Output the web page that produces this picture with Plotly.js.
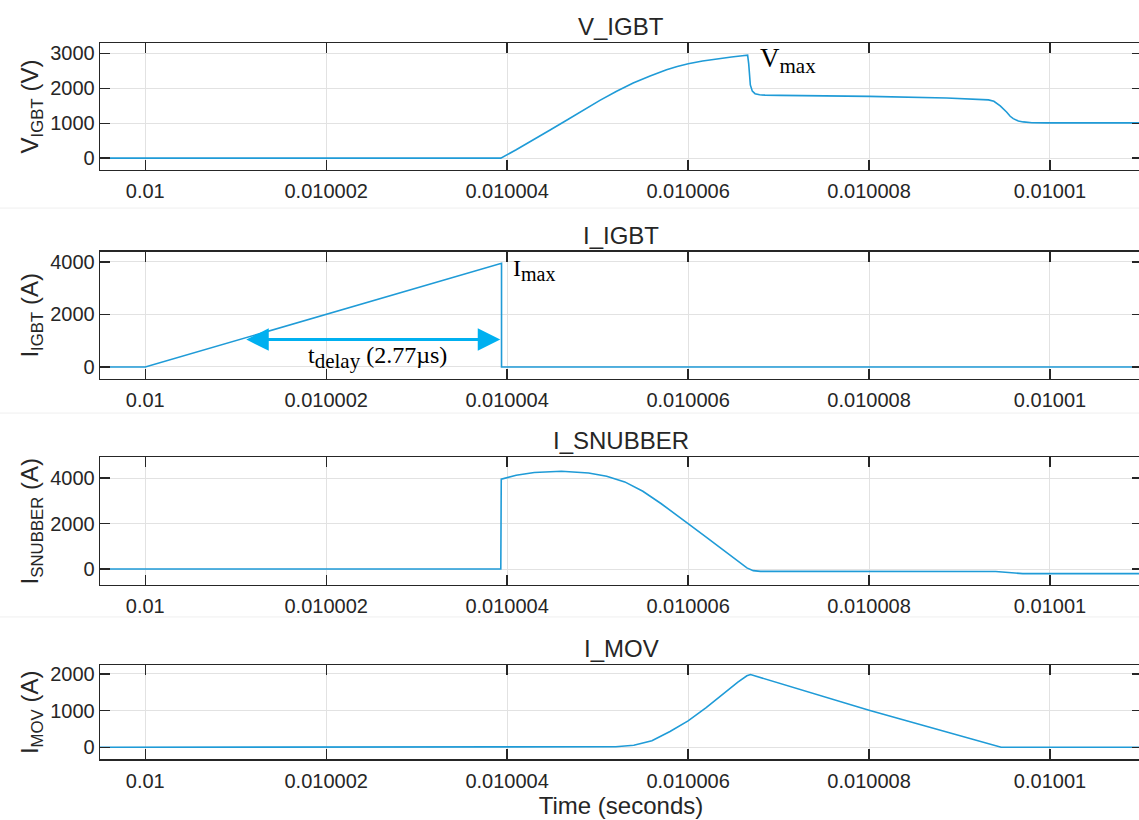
<!DOCTYPE html>
<html>
<head>
<meta charset="utf-8">
<script src="https://cdn.plot.ly/plotly-3.0.1.min.js"></script>
<style>
  html, body { margin: 0; padding: 0; overflow: hidden; background: #ffffff; }
  #chart { width: 1142px; height: 820px; }
</style>
</head>
<body>
<div id="chart"></div>
<script>
// ---------------- data (time in seconds) ----------------
const tV = [0.0099995, 0.01000393, 0.0100041, 0.010004287, 0.01000447, 0.010004657,
            0.01000484, 0.010005025, 0.01000521, 0.010005393, 0.01000558, 0.010005762,
            0.01000588, 0.010006001, 0.01000616, 0.010006315, 0.01000648, 0.0100066,
            0.010006658, 0.01000667, 0.010006688, 0.01000671, 0.01000674, 0.01000679,
            0.01000685, 0.010007015, 0.010008002, 0.010008858, 0.010009226, 0.01000932,
            0.01000938, 0.01000945, 0.01000952, 0.01000956, 0.010009594, 0.01000965,
            0.010009705, 0.0100098, 0.010009964, 0.01001102];
const vIGBT = [0, 0, 240, 514, 800, 1086,
               1375, 1657, 1915, 2151, 2355, 2534,
               2625, 2706, 2785, 2849, 2900, 2935,
               2950, 2700, 2100, 1920, 1848, 1815,
               1805, 1800, 1771, 1723, 1695, 1670,
               1630, 1500, 1324, 1200, 1133, 1065,
               1038, 1015, 1010, 1010];

const tI = [0.0099995, 0.01, 0.010003938, 0.010003938, 0.01001102];
const iIGBT = [0, 0, 3950, 0, 0];

const tS = [0.0099995, 0.01000393, 0.010003935, 0.0100041, 0.0100043, 0.0100046,
            0.0100049, 0.0100051, 0.0100053, 0.0100055, 0.0100057, 0.01000585,
            0.010006, 0.0100062, 0.0100064, 0.01000655, 0.01000665, 0.01000672,
            0.0100068, 0.0100094, 0.0100095, 0.0100096, 0.0100097, 0.01001102];
const iSNUB = [0, 0, 3950, 4120, 4240, 4300,
               4220, 4080, 3830, 3420, 2880, 2420,
               2000, 1400, 800, 330, 50, -70,
               -100, -110, -150, -190, -200, -200];

const tM = [0.0099995, 0.01000393, 0.010005, 0.0100052, 0.0100054, 0.0100056,
            0.0100058, 0.010006, 0.0100062, 0.0100064, 0.01000655, 0.01000665,
            0.01000669, 0.010008, 0.01000946, 0.01000954, 0.01001102];
const iMOV = [0, 0, 5, 15, 55, 180,
              430, 720, 1080, 1480, 1780, 1950,
              1985, 1010, 0, 0, 0];

const xTickVals = [0.01, 0.010002, 0.010004, 0.010006, 0.010008, 0.01001];
const xTickText = ["0.01", "0.010002", "0.010004", "0.010006", "0.010008", "0.01001"];
const panelTitles = ["V_IGBT", "I_IGBT", "I_SNUBBER", "I_MOV"];
const yTitles = ["V<sub>IGBT</sub> (V)", "I<sub>IGBT</sub> (A)", "I<sub>SNUBBER</sub> (A)", "I<sub>MOV</sub> (A)"];
const yTickVals = [[0, 1000, 2000, 3000], [0, 2000, 4000], [0, 2000, 4000], [0, 1000, 2000]];

// annotation anchors
const tDelayStart = 0.0100011, tDelayEnd = 0.010003924, tDelayLevel = 1045;

// ---------------- styling ----------------
const lineColor = "#1f9bd7";
const axisColor = "#262626";
const gridColor = "#e2e2e2";
const xRange = [0.0099995, 0.010011017];
const yRanges = [[-340, 3300], [-457, 4390], [-700, 4910], [-327, 2237]];
const yDomains = [[0.79268, 0.94756], [0.53780, 0.69305], [0.28659, 0.44232], [0.07402, 0.18866]];

const series = [[tV, vIGBT], [tI, iIGBT], [tS, iSNUB], [tM, iMOV]];
const traces = series.map((s, i) => ({
  x: s[0], y: s[1], type: "scatter", mode: "lines",
  xaxis: i === 0 ? "x" : "x" + (i + 1),
  yaxis: i === 0 ? "y" : "y" + (i + 1),
  line: { color: lineColor, width: 1.6 },
  showlegend: false, hoverinfo: "x+y"
}));

const layout = {
  width: 1142, height: 820,
  margin: { l: 100, r: 0, t: 0, b: 0 },
  paper_bgcolor: "#ffffff", plot_bgcolor: "#ffffff",
  font: { family: "Liberation Sans, Arial, Helvetica, sans-serif", color: axisColor, size: 20 },
  showlegend: false,
  annotations: [],
  shapes: []
};

for (let i = 0; i < 4; i++) {
  const xn = i === 0 ? "xaxis" : "xaxis" + (i + 1);
  const yn = i === 0 ? "yaxis" : "yaxis" + (i + 1);
  const xid = i === 0 ? "x" : "x" + (i + 1);
  const yid = i === 0 ? "y" : "y" + (i + 1);
  layout[xn] = {
    anchor: yid, domain: [0, 1], range: xRange,
    tickvals: xTickVals, ticktext: xTickText,
    ticks: "inside", ticklen: 10, tickwidth: 1.3, tickcolor: axisColor,
    showline: true, linecolor: axisColor, linewidth: 1.3, mirror: "ticks",
    showgrid: true, gridcolor: gridColor, gridwidth: 1, zeroline: false,
    tickfont: { size: 20, color: axisColor }, ticklabelstandoff: 3
  };
  layout[yn] = {
    anchor: xid, domain: yDomains[i], range: yRanges[i],
    tickvals: yTickVals[i],
    ticks: "inside", ticklen: 10, tickwidth: 1.3, tickcolor: axisColor,
    showline: true, linecolor: axisColor, linewidth: 1.3, mirror: "ticks",
    showgrid: true, gridcolor: gridColor, gridwidth: 1, zeroline: false,
    tickfont: { size: 20, color: axisColor },
    title: { text: yTitles[i], font: { size: 24, color: axisColor }, standoff: 4 }
  };
  layout.annotations.push({
    text: panelTitles[i], xref: xid + " domain", yref: yid + " domain",
    x: 0.5, y: 1, xanchor: "center", yanchor: "bottom", yshift: 1,
    showarrow: false, font: { size: 24, color: axisColor }
  });
}
layout.xaxis4.title = { text: "Time (seconds)", font: { size: 24, color: axisColor }, standoff: 4 };

// separators between stacked panels
[0.7463, 0.4963, 0.2476].forEach(y => layout.shapes.push({
  type: "line", xref: "paper", yref: "paper", x0: -0.096, x1: 1, y0: y, y1: y,
  line: { color: "#efefef", width: 1 }
}));

// serif callouts
const serif = "Liberation Serif, Times New Roman, serif";
layout.annotations.push({
  text: "V<sub><span style='font-size:21px'>max</span></sub>",
  xref: "x", yref: "y", x: 0.010006772, y: 2800, xanchor: "left", yanchor: "middle",
  showarrow: false, font: { family: serif, size: 27, color: "#000000" }
});
layout.annotations.push({
  text: "I<sub><span style='font-size:20px'>max</span></sub>",
  xref: "x2", yref: "y2", x: 0.010004045, y: 3695, xanchor: "left", yanchor: "middle",
  showarrow: false, font: { family: serif, size: 24, color: "#000000" }
});
layout.annotations.push({
  text: "t<sub><span style='font-size:21px'>delay</span></sub> (2.77µs)",
  xref: "x2", yref: "y2", x: 0.01000257, y: 343, xanchor: "center", yanchor: "middle",
  showarrow: false, font: { family: serif, size: 24, color: "#000000" }
});
layout.annotations.push({
  text: "", xref: "x2", yref: "y2", axref: "x2", ayref: "y2",
  x: tDelayEnd, y: tDelayLevel, ax: tDelayStart, ay: tDelayLevel,
  showarrow: true, arrowside: "end+start", arrowhead: 2, startarrowhead: 2,
  arrowsize: 1.5, startarrowsize: 1.5, arrowwidth: 3, arrowcolor: "#00b0f0",
  standoff: 0, startstandoff: 0
});

Plotly.newPlot("chart", traces, layout, { staticPlot: true, displayModeBar: false });
</script>
</body>
</html>
